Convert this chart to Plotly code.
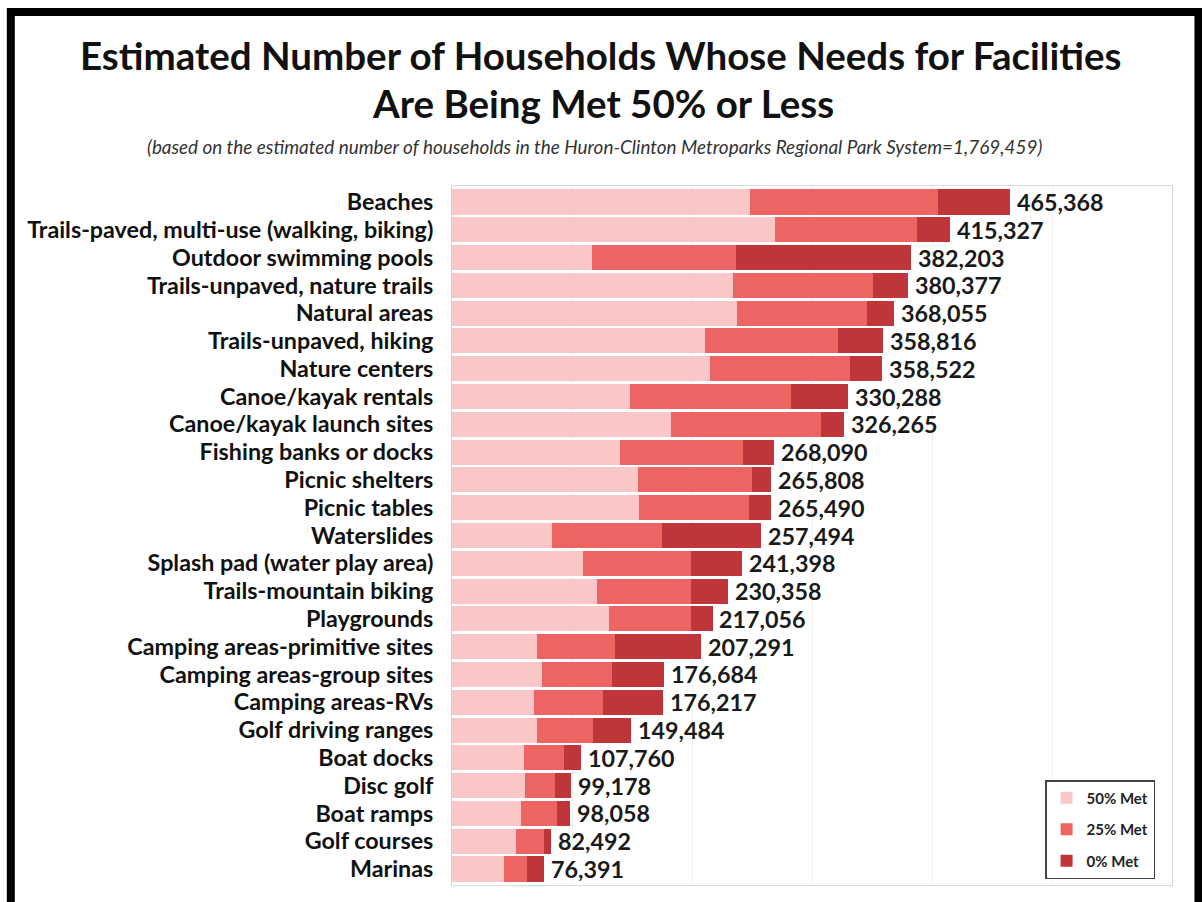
import plotly.graph_objects as go

categories = [
    "Beaches", "Trails-paved, multi-use (walking, biking)", "Outdoor swimming pools",
    "Trails-unpaved, nature trails", "Natural areas", "Trails-unpaved, hiking",
    "Nature centers", "Canoe/kayak rentals", "Canoe/kayak launch sites",
    "Fishing banks or docks", "Picnic shelters", "Picnic tables", "Waterslides",
    "Splash pad (water play area)", "Trails-mountain biking", "Playgrounds",
    "Camping areas-primitive sites", "Camping areas-group sites", "Camping areas-RVs",
    "Golf driving ranges", "Boat docks", "Disc golf", "Boat ramps", "Golf courses", "Marinas",
]
met50 = [248300, 268900, 116400, 234500, 237700, 211000, 215200, 148600, 182100,
         140000, 154900, 155900, 83300, 108800, 120600, 130500, 70600, 75400, 68700,
         70900, 60300, 60500, 57200, 53600, 43700]
met25 = [156500, 118800, 120100, 116200, 108200, 110500, 116700, 134000, 125300,
         102800, 94900, 91700, 91700, 90100, 78300, 69000, 65000, 57900, 57000,
         46200, 32700, 25000, 30300, 22800, 18800]
met0 = [60600, 27600, 145700, 29700, 22200, 37300, 26600, 47700, 18900,
        25300, 16000, 17900, 82500, 42500, 31500, 17600, 71700, 43400, 50500,
        32400, 14800, 13700, 10600, 6100, 13900]
totals = [465368, 415327, 382203, 380377, 368055, 358816, 358522, 330288, 326265,
          268090, 265808, 265490, 257494, 241398, 230358, 217056, 207291, 176684,
          176217, 149484, 107760, 99178, 98058, 82492, 76391]
series_names = ["50% Met", "25% Met", "0% Met"]
series_colors = ["#F9C7C8", "#EE6462", "#BF353A"]

FONT = "Lato"

fig = go.Figure()
for i, (name, vals, col) in enumerate(zip(series_names, [met50, met25, met0], series_colors)):
    fig.add_trace(go.Bar(
        y=categories, x=vals, name=name, orientation="h",
        marker=dict(color=col, line=dict(width=0)),
        legendgroup=str(i), hoverinfo="x+y+name",
    ))

for cat, tot in zip(categories, totals):
    fig.add_annotation(x=tot, y=cat, xref="x", yref="y", text=f"{tot:,}",
                       showarrow=False, xanchor="left", xshift=5,
                       font=dict(family=FONT, size=23.3, color="#1a1a1a", weight="bold"))

W, H = 1202, 902
L, R, T, B = 451.5, 1172, 186, 885
pw, ph = R - L, B - T

def px(x):
    return (x - L) / pw

def py(y):
    return (B - y) / ph

fig.add_shape(type="rect", xref="paper", yref="paper",
              x0=px(10), x1=px(1198.5), y0=py(920), y1=py(12),
              line=dict(color="black", width=8), fillcolor="rgba(0,0,0,0)")

fig.add_annotation(xref="paper", yref="paper", x=px(600), y=py(55),
                   text="<b>Estimated Number of Households Whose Needs for Facilities</b>",
                   showarrow=False, xanchor="center", yanchor="middle",
                   font=dict(family=FONT, size=38.5, color="#111111"))
fig.add_annotation(xref="paper", yref="paper", x=px(603), y=py(103),
                   text="<b>Are Being Met 50% or Less</b>",
                   showarrow=False, xanchor="center", yanchor="middle",
                   font=dict(family=FONT, size=38.5, color="#111111"))
fig.add_annotation(xref="paper", yref="paper", x=px(594), y=py(146),
                   text="<i>(based on the estimated number of households in the Huron-Clinton Metroparks Regional Park System=1,769,459)</i>",
                   showarrow=False, xanchor="center", yanchor="middle",
                   font=dict(family=FONT, size=18.9, color="#333333"))

fig.update_layout(
    width=W, height=H,
    margin=dict(l=L, r=W - R, t=T, b=H - B, pad=0),
    barmode="stack", bargap=0.1,
    paper_bgcolor="white", plot_bgcolor="white",
    font=dict(family=FONT, color="#111111"),
    showlegend=True,
    legend=dict(
        x=px(1045), y=py(780), xanchor="left", yanchor="top",
        bordercolor="#444444", borderwidth=1.5, bgcolor="white",
        font=dict(family=FONT, size=15, color="#222222", weight="bold"),
        traceorder="grouped", tracegroupgap=9,
        itemwidth=30,
    ),
    xaxis=dict(range=[0, 600000], showticklabels=False, showgrid=True,
               gridcolor="#f1f1f1", dtick=100000, zeroline=False,
               showline=True, linecolor="#d9d9d9", mirror=True, ticks=""),
    yaxis=dict(autorange="reversed", showgrid=False, showline=True,
               linecolor="#d0d0d0", mirror=True, ticks="",
               tickmode="array", tickvals=categories, ticktext=categories,
               ticklabelstandoff=13,
               tickfont=dict(family=FONT, size=23.3, color="#111111", weight="bold")),
)

fig.write_html("out.html", config={"displayModeBar": False},
               post_script="document.body.style.margin='0';document.body.style.padding='0';document.body.style.overflow='hidden';")
